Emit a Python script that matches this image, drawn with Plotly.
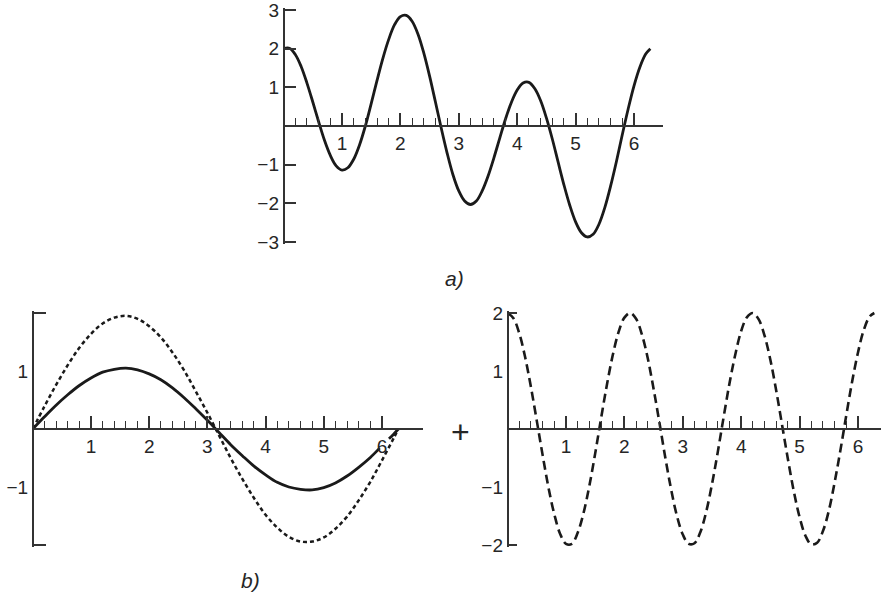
import plotly.graph_objects as go

# ---------------- data ----------------
# a) sum curve
x_sum = [0, 0.1, 0.2, 0.3, 0.4, 0.5, 0.6, 0.7, 0.8, 0.9, 1.0, 1.1, 1.2, 1.3, 1.4, 1.5,
         1.6, 1.7, 1.8, 1.9, 2.0, 2.1, 2.2, 2.3, 2.4, 2.5, 2.6, 2.7, 2.8, 2.9, 3.0, 3.1,
         3.2, 3.3, 3.4, 3.5, 3.6, 3.7, 3.8, 3.9, 4.0, 4.1, 4.2, 4.3, 4.4, 4.5, 4.6, 4.7,
         4.8, 4.9, 5.0, 5.1, 5.2, 5.3, 5.4, 5.5, 5.6, 5.7, 5.8, 5.9, 6.0, 6.1, 6.2, 6.28]
y_sum = [2.00, 2.01, 1.85, 1.54, 1.11, 0.62, 0.11, -0.37, -0.76, -1.03, -1.14, -1.08, -0.86,
         -0.49, 0.00, 0.58, 1.18, 1.75, 2.24, 2.62, 2.83, 2.86, 2.71, 2.38, 1.89, 1.29, 0.62,
         -0.06, -0.70, -1.26, -1.68, -1.94, -2.03, -1.94, -1.68, -1.30, -0.83, -0.32, 0.18,
         0.61, 0.93, 1.11, 1.13, 0.97, 0.66, 0.21, -0.33, -0.93, -1.52, -2.05, -2.48, -2.76,
         -2.87, -2.80, -2.54, -2.11, -1.55, -0.91, -0.22, 0.44, 1.04, 1.52, 1.86, 2.00]

# b) left: solid and dotted curves
x_solid = [0, 0.2, 0.4, 0.6, 0.8, 1.0, 1.2, 1.4, 1.6, 1.8, 2.0, 2.2, 2.4, 2.6, 2.8, 3.0,
           3.2, 3.4, 3.6, 3.8, 4.0, 4.2, 4.4, 4.6, 4.8, 5.0, 5.2, 5.4, 5.6, 5.8, 5.96,
           None, 6.12, 6.2, 6.28]
y_solid = [0, 0.21, 0.41, 0.59, 0.75, 0.88, 0.98, 1.03, 1.05, 1.02, 0.95, 0.85, 0.71, 0.54,
           0.35, 0.15, -0.06, -0.27, -0.46, -0.64, -0.79, -0.92, -1.00, -1.04, -1.05, -1.01,
           -0.93, -0.81, -0.66, -0.49, -0.33, None, -0.17, -0.09, 0.0]
x_dotted = [0, 0.2, 0.4, 0.6, 0.8, 1.0, 1.2, 1.4, 1.6, 1.8, 2.0, 2.2, 2.4, 2.6, 2.8, 3.0,
            3.2, 3.4, 3.6, 3.8, 4.0, 4.2, 4.4, 4.6, 4.8, 5.0, 5.2, 5.4, 5.6, 5.8, 6.0, 6.2, 6.28]
y_dotted = [0, 0.39, 0.76, 1.10, 1.40, 1.64, 1.82, 1.92, 1.95, 1.90, 1.77, 1.58, 1.32, 1.01,
            0.65, 0.28, -0.11, -0.50, -0.86, -1.19, -1.48, -1.70, -1.86, -1.94, -1.94, -1.87,
            -1.72, -1.51, -1.23, -0.91, -0.54, -0.16, 0.0]

# b) right: dashed curve
x_dashed = x_sum
y_dashed = [2.00, 1.91, 1.65, 1.24, 0.72, 0.14, -0.45, -1.01, -1.47, -1.81, -1.98, -1.98,
            -1.79, -1.45, -0.98, -0.42, 0.18, 0.76, 1.27, 1.67, 1.92, 2.00, 1.90, 1.63, 1.22,
            0.69, 0.11, -0.49, -1.04, -1.50, -1.82, -1.98, -1.97, -1.78, -1.43, -0.95, -0.39,
            0.21, 0.79, 1.29, 1.69, 1.93, 2.00, 1.89, 1.61, 1.19, 0.66, 0.07, -0.52, -1.07,
            -1.52, -1.84, -1.99, -1.96, -1.76, -1.41, -0.92, -0.36, 0.24, 0.82, 1.32, 1.71,
            1.94, 2.00]

# tick values / labels
x_major = [1, 2, 3, 4, 5, 6]
x_major_text = ["1", "2", "3", "4", "5", "6"]
x_minor = [0.2, 0.4, 0.6, 0.8, 1.2, 1.4, 1.6, 1.8, 2.2, 2.4, 2.6, 2.8, 3.2, 3.4, 3.6, 3.8,
           4.2, 4.4, 4.6, 4.8, 5.2, 5.4, 5.6, 5.8]
y_top_ticks = [-3, -2, -1, 1, 2, 3]
y_top_text = ["\u22123", "\u22122", "\u22121", "1", "2", "3"]
y_left_ticks = [-1, 1]
y_left_text = ["\u22121", "1"]
y_right_ticks = [-2, -1, 1, 2]
y_right_text = ["\u22122", "\u22121", "1", "2"]
y_bracket = [-2, 2]

# ---------------- figure ----------------
W, H = 881, 600
INK = "#1a1a1a"
AX = "#333333"
FONT = dict(family="Liberation Sans, Arial, Helvetica, sans-serif", size=19, color="#262626")


def px(x):
    return x / W


def py(y):
    return 1 - y / H


fig = go.Figure()
fig.add_trace(go.Scatter(x=x_sum, y=y_sum, mode="lines", line=dict(color=INK, width=2.8, shape="spline"),
                         xaxis="x", yaxis="y", showlegend=False, hoverinfo="skip"))
fig.add_trace(go.Scatter(x=x_dotted, y=y_dotted, mode="lines",
                         line=dict(color=INK, width=2.5, dash="4px,3px", shape="spline"),
                         xaxis="x2", yaxis="y2", showlegend=False, hoverinfo="skip"))
fig.add_trace(go.Scatter(x=x_solid, y=y_solid, mode="lines", line=dict(color=INK, width=2.8, shape="spline"),
                         xaxis="x2", yaxis="y2", showlegend=False, hoverinfo="skip", connectgaps=False))
fig.add_trace(go.Scatter(x=x_dashed, y=y_dashed, mode="lines",
                         line=dict(color=INK, width=2.6, dash="9px,5px", shape="spline"),
                         xaxis="x3", yaxis="y3", showlegend=False, hoverinfo="skip"))
# empty traces so the bracket-tick overlay axes get drawn
fig.add_trace(go.Scatter(x=[None], y=[None], mode="lines", xaxis="x2", yaxis="y4",
                         showlegend=False, hoverinfo="skip"))
fig.add_trace(go.Scatter(x=[None], y=[None], mode="lines", xaxis="x3", yaxis="y5",
                         showlegend=False, hoverinfo="skip"))

PAD = 1.7  # px of axis beyond the end ticks so end ticks are not dropped


def xaxis_cfg(x0px, x1px, scale, ypos):
    return dict(
        domain=[px(x0px), px(x1px)], range=[0, (x1px - x0px) / scale],
        anchor="free", position=ypos, showline=True, linecolor=AX, linewidth=1.6,
        showgrid=False, zeroline=False, tickmode="array", tickvals=x_major, ticktext=x_major_text,
        ticks="inside", ticklen=12, tickwidth=1.5, tickcolor=AX, tickfont=FONT,
        ticklabelstandoff=0, automargin=False, ticklabeloverflow="allow",
        minor=dict(tickmode="array", tickvals=x_minor, ticks="inside", ticklen=7,
                   tickwidth=1.3, tickcolor=AX, showgrid=False),
        fixedrange=True,
    )


def yaxis_cfg(y0px, y1px, lim, xpos, tv, tt, ticklen):
    scale = (y1px - y0px) / (2 * lim)
    ext = lim + PAD / scale
    return dict(
        domain=[py(y1px + PAD), py(y0px - PAD)], range=[-ext, ext],
        anchor="free", position=xpos, showline=True, linecolor=AX, linewidth=1.6,
        showgrid=False, zeroline=False, tickmode="array", tickvals=tv, ticktext=tt,
        ticks="inside", ticklen=ticklen, tickwidth=1.5, tickcolor=AX, tickfont=FONT,
        ticklabelstandoff=0, automargin=False, ticklabeloverflow="allow",
        fixedrange=True,
    )


def bracket_cfg(base, y0px, y1px, lim, xpos, blen):
    scale = (y1px - y0px) / (2 * lim)
    ext = lim + PAD / scale
    return dict(
        overlaying=base, range=[-ext, ext], anchor="free", position=xpos, showline=False,
        showgrid=False, zeroline=False, tickmode="array", tickvals=y_bracket,
        showticklabels=False, ticks="inside", ticklen=blen, tickwidth=1.5, tickcolor=AX,
        automargin=False, fixedrange=True,
    )


fig.update_layout(
    xaxis=xaxis_cfg(283.6, 663, 58.4, py(126)),
    yaxis=yaxis_cfg(10, 242, 3, px(283.6), y_top_ticks, y_top_text, 12),
    xaxis2=xaxis_cfg(32.8, 423, 58.2, py(429)),
    yaxis2=yaxis_cfg(313, 545, 2, px(32.8), y_left_ticks, y_left_text, 0),
    xaxis3=xaxis_cfg(507.6, 881, 58.4, py(429)),
    yaxis3=yaxis_cfg(313, 545, 2, px(507.6), y_right_ticks, y_right_text, 0),
    yaxis4=bracket_cfg("y2", 313, 545, 2, px(32.8), 12),
    yaxis5=bracket_cfg("y3", 313, 545, 2, px(507.6), 8),
)

ann_font = dict(family="Liberation Sans, Arial, Helvetica, sans-serif", size=21, color="#262626")
fig.add_annotation(x=px(455), y=py(278), xref="paper", yref="paper", text="<i>a)</i>",
                   showarrow=False, font=ann_font, xanchor="center", yanchor="middle")
fig.add_annotation(x=px(250), y=py(580), xref="paper", yref="paper", text="<i>b)</i>",
                   showarrow=False, font=ann_font, xanchor="center", yanchor="middle")
fig.add_annotation(x=px(460), y=py(432), xref="paper", yref="paper", text="+",
                   showarrow=False, font=dict(family="Liberation Sans, Arial, sans-serif", size=32,
                                              color="#262626"),
                   xanchor="center", yanchor="middle")

fig.update_layout(width=W, height=H, margin=dict(l=0, r=0, t=0, b=0, autoexpand=False),
                  paper_bgcolor="white", plot_bgcolor="white", showlegend=False)

fig.write_html("out.html", config={"displayModeBar": False},
               post_script="document.body.style.margin='0px';document.body.style.overflow='hidden';")
